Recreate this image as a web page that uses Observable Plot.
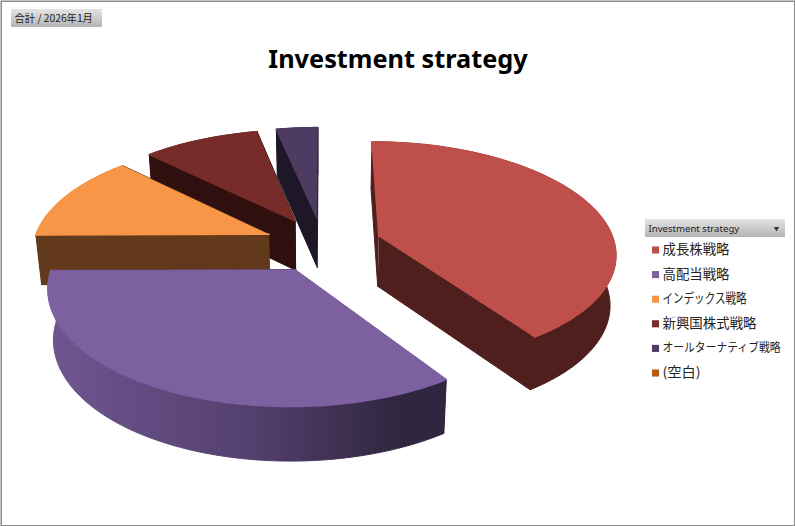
<!DOCTYPE html>
<html><head><meta charset="utf-8">
<script src="https://cdn.jsdelivr.net/npm/d3@7"></script>
<script src="https://cdn.jsdelivr.net/npm/@observablehq/plot@0.6"></script>
<style>html,body{margin:0;padding:0;background:#fff}svg{display:block}</style>
</head><body><div id="chart"></div>
<script>
// Data (share of total, %)
const categories = ["成長株戦略","高配当戦略","インデックス戦略","新興国株式戦略","オールターナティブ戦略","(空白)"];
const values = [40.5,34.4,12.5,9.3,3.3,0];
const topColors = ["#BE4F4B","#7D60A0","#F79646","#772C2A","#4D3B62","#B85A10"];
const wallColors = ["#4E1F1C","url(#rimPurple)","#63391B","#2F100F","#1E1728","#63300A"];
const labelWidths = [67,67,84,94,118,38];
const title = "Investment strategy";
const pageFilter = "合計 / 2026年1月";
const fieldName = "Investment strategy";

// Pie projection parameters (perspective view of an exploded 3D pie)
const cx=322.5, cy=244, rx=236, ry=110, k=0.14, explode=0.25;
function project(X,Z,low){
  const s=1/(1+k*Z);
  let x=cx+rx*X*s, y=cy-ry*Z*s;
  if(low){ x=cx+(x-cx)*0.98; y+=28+22*s; }
  return {x,y};
}
const total=d3.sum(values);
let acc=0;
const slices=values.map((v,i)=>{
  const a0=acc/total*2*Math.PI; acc+=v; const a1=acc/total*2*Math.PI;
  const mid=(a0+a1)/2, ox=explode*Math.sin(mid), oz=explode*Math.cos(mid);
  const n=Math.max(2,Math.ceil((a1-a0)/0.02));
  const arc=d3.range(n+1).map(j=>{const t=a0+(a1-a0)*j/n;return [ox+Math.sin(t),oz+Math.cos(t)];});
  const apex=[ox,oz];
  const topFace=[apex,...arc].map(p=>project(p[0],p[1],false));
  const quad=(pts)=>[...pts.map(p=>project(p[0],p[1],false)),...pts.slice().reverse().map(p=>project(p[0],p[1],true))];
  return {i,v,top:topFace,rim:quad(arc),wallA:quad([apex,arc[0]]),wallB:quad([apex,arc[n]])};
}).filter(d=>d.v>0);
const order=[4,3,2,0,1];
const pieMarks=order.flatMap(i=>{
  const s=slices[i];
  const face=(pts,fill,sw)=>Plot.line(pts,{x:"x",y:"y",fill,stroke:fill,strokeWidth:sw,curve:"linear"});
  return [face(s.wallA,wallColors[i],1),face(s.wallB,wallColors[i],1),face(s.rim,wallColors[i],1),face(s.top,topColors[i],1.5)];
});
const legendRows=categories.map((name,i)=>({name,color:topColors[i],y:249.5+i*24.6,size:name.length>8?12:13.4}));
const boxes=[
  {x1:11,x2:102,y1:9,y2:27,fill:"url(#btn)"},
  {x1:645,x2:785,y1:219,y2:237,fill:"url(#btn)"}
];
const plot=Plot.plot({
  width:795,height:526,margin:0,
  x:{domain:[0,795],range:[0,795],axis:null},
  y:{domain:[0,526],range:[0,526],axis:null},
  marks:[
    Plot.frame({stroke:"#8c8c8c",strokeWidth:1.5,inset:0.75}),
    ...pieMarks,
    Plot.rect(boxes,{x1:"x1",x2:"x2",y1:"y1",y2:"y2",fill:"fill"}),
    Plot.text([pageFilter],{x:14,y:18,text:d=>d,textAnchor:"start",fontSize:10.3,fill:"#222",fontFamily:"'Noto Sans CJK JP',sans-serif"}),
    Plot.text([fieldName],{x:648,y:228,text:d=>d,textAnchor:"start",fontSize:9.6,fill:"#222",fontFamily:"'Noto Sans',sans-serif"}),
    Plot.dot([0],{x:776,y:228,r:2,symbol:"triangle",rotate:180,fill:"#333"}),
    Plot.text([title],{x:397.5,y:59,text:d=>d,textAnchor:"middle",fontSize:25.3,fontWeight:"bold",fill:"#000",fontFamily:"'Noto Sans',sans-serif"}),
    Plot.dot(legendRows,{x:655,y:"y",symbol:"square",r:4,fill:"color"}),
    Plot.text(legendRows,{x:662,y:"y",text:"name",textAnchor:"start",fontSize:"size",fill:"#222",fontFamily:"'Noto Sans CJK JP',sans-serif"})
  ]
});
d3.select(plot).append("defs").html(`
 <linearGradient id="rimPurple" gradientUnits="userSpaceOnUse" x1="50" x2="447" y1="0" y2="0">
  <stop offset="0" stop-color="#705690"/><stop offset="0.5" stop-color="#54406f"/><stop offset="0.88" stop-color="#30263f"/><stop offset="1" stop-color="#30263f"/>
 </linearGradient>
 <linearGradient id="btn" x1="0" x2="0" y1="0" y2="1">
  <stop offset="0" stop-color="#e4e4e4"/><stop offset="1" stop-color="#b4b4b4"/>
 </linearGradient>`);
d3.select(plot).selectAll("text").each(function(){
  const i=categories.indexOf(this.textContent);
  if(i>=0){ this.setAttribute("textLength",labelWidths[i]); this.setAttribute("lengthAdjust","spacingAndGlyphs"); }
});
document.getElementById("chart").append(plot);
</script></body></html>
